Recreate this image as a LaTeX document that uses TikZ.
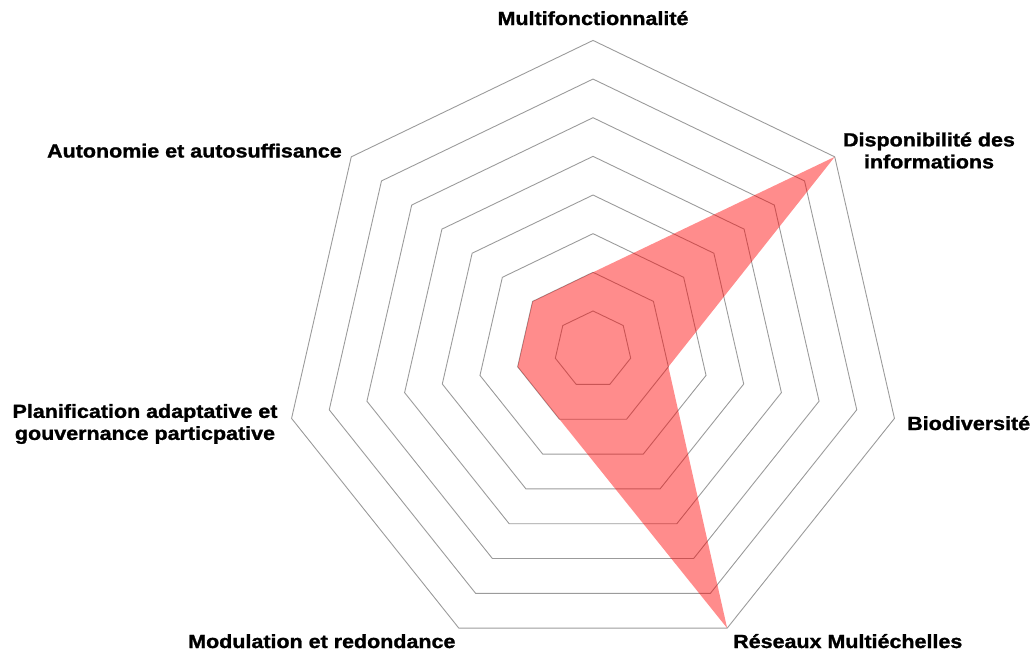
\documentclass[tikz,border=0pt]{standalone}
\usepackage{fontspec}
\setmainfont{Liberation Sans}[BoldFeatures={FakeBold=1.2}]
\begin{document}
\begin{tikzpicture}[x=1pt,y=-1pt,
  ring/.style={draw={rgb,255:red,155;green,155;blue,155}, line width=0.9pt, line join=miter},
  datafill/.style={fill={rgb,255:red,255;green,0;blue,0}, fill opacity=0.45, draw=none},
  lbl/.style={font=\fontsize{19}{22}\selectfont\bfseries, inner sep=0pt, xscale=1.13, align=center}]
\useasboundingbox (0,0) rectangle (1032,651);
\def\cx{593}\def\cy{349.6}\def\u{38.65}
% rings
\foreach \k in {1,...,8}{
  \draw[ring] ({\cx+\k*\u*cos(90)},{\cy-\k*\u*sin(90)})
    \foreach \i in {1,...,6}{ -- ({\cx+\k*\u*cos(90-\i*360/7)},{\cy-\k*\u*sin(90-\i*360/7)}) } -- cycle;
}
% data polygon: values 2,8,2,8,2,2,2
\coordinate (p0) at ({\cx+2*\u*cos(90)},{\cy-2*\u*sin(90)});
\coordinate (p1) at ({\cx+8*\u*cos(90-1*360/7)},{\cy-8*\u*sin(90-1*360/7)});
\coordinate (p2) at ({\cx+2*\u*cos(90-2*360/7)},{\cy-2*\u*sin(90-2*360/7)});
\coordinate (p3) at ({\cx+8*\u*cos(90-3*360/7)},{\cy-8*\u*sin(90-3*360/7)});
\coordinate (p4) at ({\cx+2*\u*cos(90-4*360/7)},{\cy-2*\u*sin(90-4*360/7)});
\coordinate (p5) at ({\cx+2*\u*cos(90-5*360/7)},{\cy-2*\u*sin(90-5*360/7)});
\coordinate (p6) at ({\cx+2*\u*cos(90-6*360/7)},{\cy-2*\u*sin(90-6*360/7)});
\fill[datafill] (p0) -- (p1) -- (p2) -- (p3) -- (p4) -- (p5) -- (p6) -- cycle;
% labels
\node[lbl, anchor=base] (multi) at (593,25) {Multifonctionnalité};
\node[lbl, anchor=center] (dispo) at (929,150.5) {Disponibilité des\\informations};
\node[lbl, anchor=base west] (bio) at (907,430) {Biodiversité};
\node[lbl, anchor=base west] (reseaux) at (733,648) {Réseaux Multiéchelles};
\node[lbl, anchor=base west] (modul) at (188,648) {Modulation et redondance};
\node[lbl, anchor=center] (planif) at (145,424) {Planification adaptative et\\gouvernance particpative};
\node[lbl, anchor=base east] (auto) at (342,157.5) {Autonomie et autosuffisance};
\end{tikzpicture}
\end{document}
